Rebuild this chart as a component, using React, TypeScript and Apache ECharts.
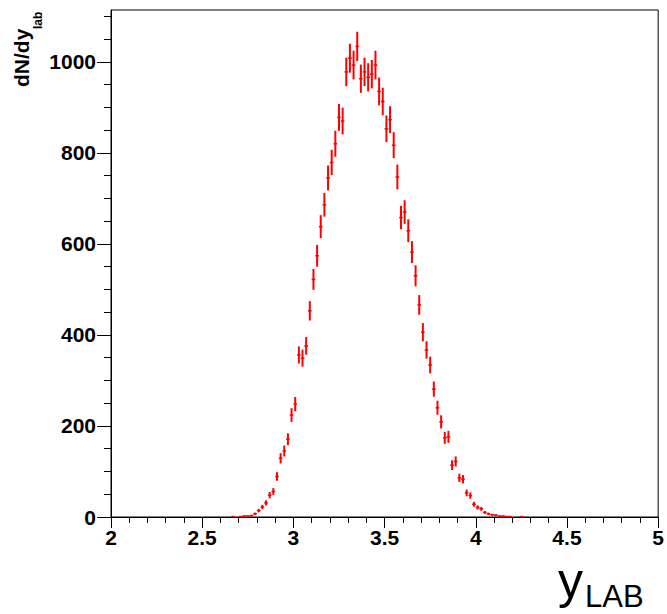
import React, { useEffect, useRef } from "react";
import * as echarts from "echarts";

// Bin centres (y_LAB) and bin contents
const binCenters = [
  2.67, 2.71, 2.73, 2.75, 2.77, 2.79, 2.81, 2.83, 2.85, 2.87, 2.89, 2.91, 2.93, 2.95, 2.97, 2.99,
  3.01, 3.03, 3.05, 3.07, 3.09, 3.11, 3.13, 3.15, 3.17, 3.19, 3.21, 3.23, 3.25, 3.27, 3.29,
  3.31, 3.33, 3.35, 3.37, 3.39, 3.41, 3.43, 3.45, 3.47, 3.49, 3.51, 3.53, 3.55, 3.57, 3.59,
  3.61, 3.63, 3.65, 3.67, 3.69, 3.71, 3.73, 3.75, 3.77, 3.79, 3.81, 3.83, 3.85, 3.87, 3.89,
  3.91, 3.93, 3.95, 3.97, 3.99, 4.01, 4.03, 4.05, 4.07, 4.09, 4.11, 4.13, 4.15, 4.17, 4.19, 4.25,
];
const counts = [
  1, 1, 2, 2, 3, 7, 14, 22, 31, 48, 56, 89, 129, 145, 171, 224,
  248, 356, 349, 376, 453, 522, 574, 638, 686, 745, 779, 820, 878, 870, 978,
  1008, 993, 1034, 963, 978, 966, 973, 993, 935, 913, 853, 873, 817, 747, 658,
  670, 629, 582, 530, 466, 406, 367, 334, 281, 240, 209, 174, 176, 114, 122,
  86, 83, 53, 47, 28, 21, 18, 10, 7, 5, 4, 2, 2, 1, 1, 1,
];
const binWidth = 0.02;

const xTickLabels = [2, 2.5, 3, 3.5, 4, 4.5, 5];
const yMajorTicks = [0, 200, 400, 600, 800, 1000];
const yMinorTicks = [
  0, 50, 100, 150, 200, 250, 300, 350, 400, 450, 500, 550, 600, 650, 700, 750, 800, 850, 900,
  950, 1000, 1050, 1100,
];

const FONT = "'Liberation Sans', Arial, Helvetica, sans-serif";

export default function App() {
  const ref = useRef<HTMLDivElement>(null);

  useEffect(() => {
    if (!ref.current) return;
    const chart = echarts.init(ref.current, undefined, { renderer: "svg" });

    const data = binCenters.map((x, i) => [x, counts[i], Math.sqrt(counts[i])]);

    const option: any = {
      animation: false,
      backgroundColor: "#ffffff",
      grid: {
        left: 111,
        right: 6,
        top: 10,
        bottom: 97,
        show: true,
        borderColor: "#000",
        borderWidth: 1,
        backgroundColor: "transparent",
      },
      xAxis: {
        type: "value",
        min: 2,
        max: 5,
        interval: 0.5,
        axisLine: { show: true, lineStyle: { color: "#000", width: 1 } },
        axisTick: { show: true, inside: false, length: 11, lineStyle: { color: "#000", width: 1 } },
        minorTick: { show: true, splitNumber: 5, length: 6, lineStyle: { color: "#000", width: 1 } },
        splitLine: { show: false },
        axisLabel: {
          color: "#000",
          fontFamily: FONT,
          fontWeight: "bold",
          fontSize: 21,
          margin: 10,
          formatter: (v: number) => (xTickLabels.includes(v) ? String(v) : ""),
        },
      },
      yAxis: [
        {
          type: "value",
          min: 0,
          max: 1114,
          position: "left",
          axisLine: { show: true, lineStyle: { color: "#000", width: 1 } },
          axisTick: {
            show: true,
            inside: false,
            length: 14,
            customValues: yMajorTicks,
            lineStyle: { color: "#000", width: 1 },
          },
          splitLine: { show: false },
          axisLabel: {
            customValues: yMajorTicks,
            color: "#000",
            fontFamily: FONT,
            fontWeight: "bold",
            fontSize: 21,
            margin: 15,
            formatter: (v: number) => String(v),
          },
        },
        {
          type: "value",
          min: 0,
          max: 1114,
          position: "left",
          offset: 0,
          axisLine: { show: false },
          axisTick: {
            show: true,
            inside: false,
            length: 7,
            customValues: yMinorTicks,
            lineStyle: { color: "#000", width: 1 },
          },
          splitLine: { show: false },
          axisLabel: { show: false },
        },
      ],
      series: [
        {
          type: "custom",
          xAxisIndex: 0,
          yAxisIndex: 0,
          data,
          clip: true,
          renderItem: (params: any, api: any) => {
            const x = api.value(0);
            const y = api.value(1);
            const e = api.value(2);
            const top = api.coord([x, y + e]);
            const bot = api.coord([x, y - e]);
            const l = api.coord([x - binWidth / 2, y]);
            const r = api.coord([x + binWidth / 2, y]);
            return {
              type: "group",
              children: [
                {
                  type: "line",
                  shape: { x1: top[0], y1: top[1], x2: bot[0], y2: bot[1] },
                  style: { stroke: "#ff0000", lineWidth: 2 },
                },
                {
                  type: "line",
                  shape: { x1: l[0], y1: l[1], x2: r[0], y2: r[1] },
                  style: { stroke: "#ff0000", lineWidth: 1.5 },
                },
              ],
            };
          },
        },
      ],
      graphic: [
        {
          type: "text",
          x: 21,
          y: 87,
          rotation: Math.PI / 2,
          style: {
            text: "dN/dy",
            fontFamily: FONT,
            fontWeight: "bold",
            fontSize: 21,
            fill: "#000",
            align: "left",
            verticalAlign: "middle",
          },
        },
        {
          type: "text",
          x: 38,
          y: 29,
          rotation: Math.PI / 2,
          style: {
            text: "lab",
            fontFamily: FONT,
            fontWeight: "bold",
            fontSize: 12,
            fill: "#000",
            align: "left",
            verticalAlign: "middle",
          },
        },
        {
          type: "text",
          x: 558,
          y: 581,
          style: {
            text: "y",
            fontFamily: FONT,
            fontSize: 50,
            fill: "#000",
            align: "left",
            verticalAlign: "middle",
          },
        },
        {
          type: "text",
          x: 585,
          y: 596,
          style: {
            text: "LAB",
            fontFamily: FONT,
            fontSize: 31,
            fill: "#000",
            align: "left",
            verticalAlign: "middle",
          },
        },
      ],
    };

    chart.setOption(option);
    return () => chart.dispose();
  }, []);

  return (
    <div
      ref={ref}
      style={{ position: "fixed", left: 0, top: 0, width: 667, height: 614 }}
    />
  );
}
